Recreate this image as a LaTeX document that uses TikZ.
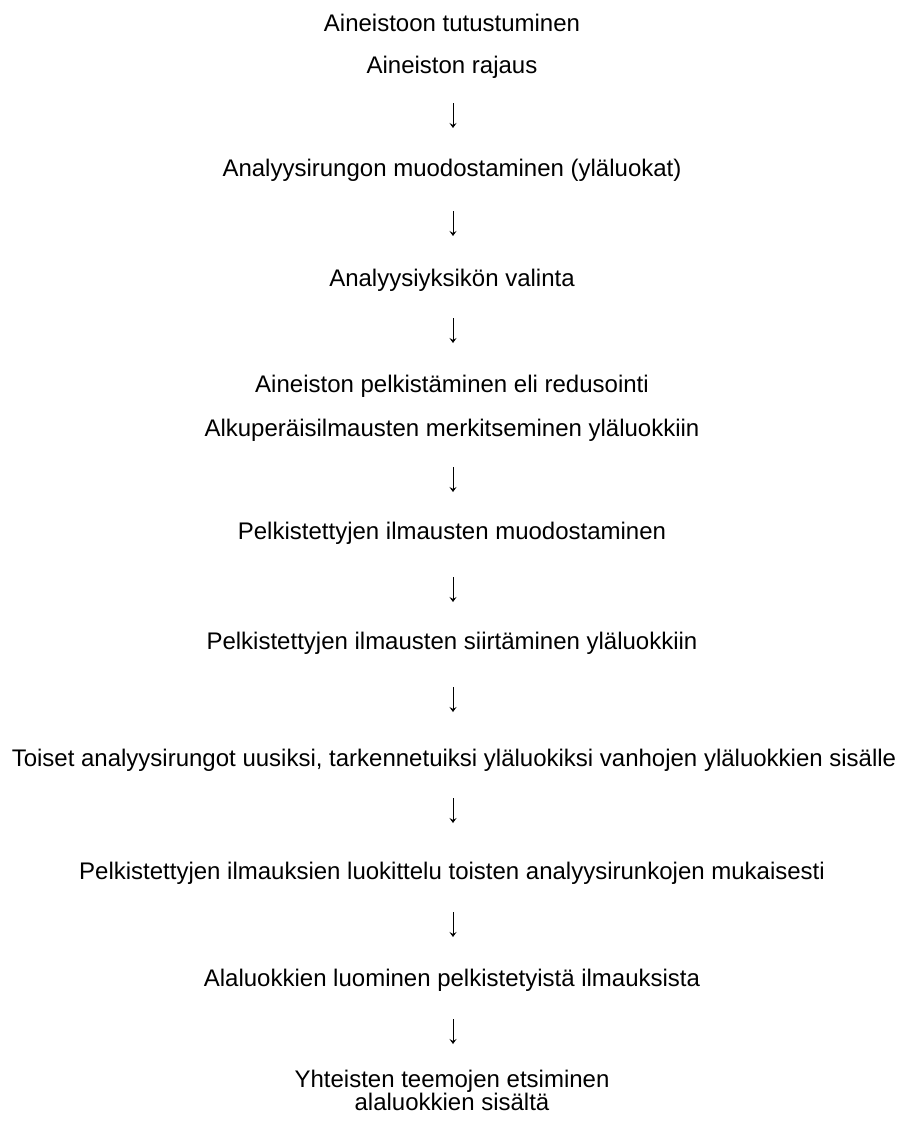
\documentclass[tikz,border=0pt]{standalone}
\usepackage{fontspec}
\setmainfont{Liberation Sans}
\usetikzlibrary{arrows.meta}
\tikzset{
  lbl/.style={anchor=base, inner sep=0pt, font=\fontsize{24}{23}\selectfont, align=center},
  arr/.style={line width=0.9pt, -{Stealth[length=5pt,width=7pt,inset=2pt]}}
}
\begin{document}
\begin{tikzpicture}[x=1pt,y=-1pt]
\useasboundingbox (0,0) rectangle (901,1122);
\node[lbl] (t1) at (452,31) {Aineistoon tutustuminen};
\node[lbl] (t2) at (452,73) {Aineiston rajaus};
\node[lbl] (t3) at (452,176) {Analyysirungon muodostaminen (yläluokat)};
\node[lbl] (t4) at (452,286) {Analyysiyksikön valinta};
\node[lbl] (t5) at (452,392) {Aineiston pelkistäminen eli redusointi};
\node[lbl] (t6) at (452,436) {Alkuperäisilmausten merkitseminen yläluokkiin};
\node[lbl] (t7) at (452,539) {Pelkistettyjen ilmausten muodostaminen};
\node[lbl] (t8) at (452,649) {Pelkistettyjen ilmausten siirtäminen yläluokkiin};
\node[lbl] (t9) at (454,766) {Toiset analyysirungot uusiksi, tarkennetuiksi yläluokiksi vanhojen yläluokkien sisälle};
\node[lbl] (t10) at (452,879) {Pelkistettyjen ilmauksien luokittelu toisten analyysirunkojen mukaisesti};
\node[lbl] (t11) at (452,986) {Alaluokkien luominen pelkistetyistä ilmauksista};
\node[lbl] (t12) at (452,1110) {Yhteisten teemojen etsiminen\\alaluokkien sisältä};
\foreach \i/\c in {1/116,2/224,3/331,4/480,5/590,6/700,7/811,8/925,9/1032}{
  \coordinate (a\i s) at (453,\c-13);
  \coordinate (a\i e) at (453,\c+12);
  \draw[arr] (a\i s) -- (a\i e);
}
\end{tikzpicture}
\end{document}
